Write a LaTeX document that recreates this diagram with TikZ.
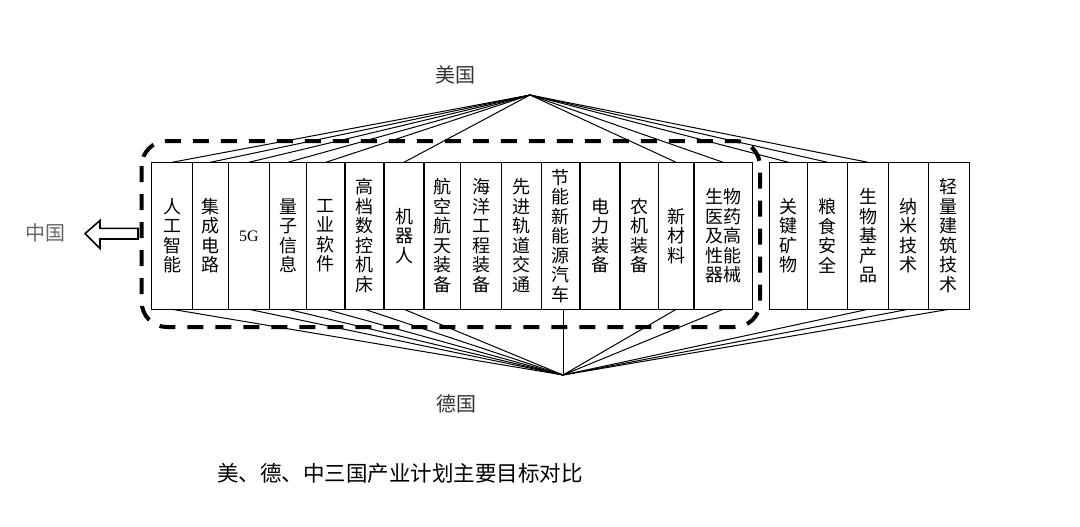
\documentclass[tikz,border=0pt]{standalone}
\usepackage{fontspec}
\setmainfont{Liberation Serif}
\newfontfamily\cjk{Noto Sans CJK SC}
\usepackage{tikz}
\usetikzlibrary{positioning}

\begin{document}
\begin{tikzpicture}[
    x=1pt, y=-1pt,
    item/.style={
        rectangle,
        draw,
        line width=1.3pt,
        fill=white,
        outer sep=0pt,
        inner sep=0pt,
        align=center,
        minimum width=39pt,
        minimum height=147pt,
        font=\cjk\fontsize{18}{19.5}\selectfont
    },
    country/.style={
        font=\cjk\fontsize{20}{22}\selectfont,
        text=black!80
    },
    frame/.style={
        line width=4pt,
        dash pattern=on 16pt off 12pt,
        rounded corners=25pt
    },
    link/.style={line width=1pt}
]
    \useasboundingbox (0,0) rectangle (1080,527);
    \fill[white] (0,0) rectangle (1080,527);

    \coordinate (us) at (530,95);
    \coordinate (de) at (563,375);

    \draw[frame] (141.7,141) rectangle (760,327);

    \node[item, minimum width=40.6pt] (ai) at (172,235.8) {人\\工\\智\\能};
    \node[item, minimum width=36pt, right=0pt of ai] (ic) {集\\成\\电\\路};
    \node[item, minimum width=41pt, right=0pt of ic] (fiveg)
        {\rmfamily\fontsize{16}{18}\selectfont 5G};
    \node[item, minimum width=37.4pt, right=0pt of fiveg] (quantum) {量\\子\\信\\息};
    \node[item, minimum width=38.3pt, right=0pt of quantum] (software) {工\\业\\软\\件};
    \node[item, right=0pt of software] (cnc) {高\\档\\数\\控\\机\\床};
    \node[item, minimum width=40pt, right=0pt of cnc] (robot) {机\\器\\人};
    \node[item, minimum width=36.7pt, right=0pt of robot] (aero) {航\\空\\航\\天\\装\\备};
    \node[item, minimum width=41pt, right=0pt of aero] (ocean) {海\\洋\\工\\程\\装\\备};
    \node[item, minimum width=40pt, right=0pt of ocean] (rail) {先\\进\\轨\\道\\交\\通};
    \node[item, minimum width=38.3pt, right=0pt of rail] (nev) {节\\能\\新\\能\\源\\汽\\车};
    \node[item, minimum width=40pt, right=0pt of nev] (power) {电\\力\\装\\备};
    \node[item, minimum width=38.3pt, right=0pt of power] (agri) {农\\机\\装\\备};
    \node[item, minimum width=35.7pt, right=0pt of agri] (material) {新\\材\\料};
    \node[item, minimum width=58.3pt, right=0pt of material] (bio)
        {生物\\医药\\及高\\性能\\器械};
    \node[item, minimum width=38.4pt, right=17pt of bio] (mineral) {关\\键\\矿\\物};
    \node[item, minimum width=40pt, right=0pt of mineral] (food) {粮\\食\\安\\全};
    \node[item, minimum width=40.6pt, right=0pt of food] (biobased) {生\\物\\基\\产\\品};
    \node[item, minimum width=40pt, right=0pt of biobased] (nano) {纳\\米\\技\\术};
    \node[item, minimum width=41pt, right=0pt of nano] (light) {轻\\量\\建\\筑\\技\\术};

    \draw[link] (us) -- (ai.north);
    \draw[link] (us) -- (ic.north);
    \draw[link] (us) -- (fiveg.north);
    \draw[link] (us) -- (quantum.north);
    \draw[link] (us) -- (software.north);
    \draw[link] (us) -- (robot.north);
    \draw[link] (us) -- (material.north);
    \draw[link] (us) -- (bio.north);
    \draw[link] (us) -- (mineral.north);
    \draw[link] (us) -- (food.north);
    \draw[link] (us) -- (biobased.north);

    \draw[link] (de) -- (ai.south);
    \draw[link] (de) -- (fiveg.south);
    \draw[link] (de) -- (quantum.south);
    \draw[link] (de) -- (software.south);
    \draw[link] (de) -- (cnc.south);
    \draw[link] (de) -- (robot.south);
    \draw[link] (de) -- (de |- nev.south);
    \draw[link] (de) -- (material.south);
    \draw[link] (de) -- (bio.south);
    \draw[link] (de) -- (biobased.south);
    \draw[link] (de) -- (nano.south);
    \draw[link] (de) -- (light.south);

    \node[country] (usa) at (455,75) {美国};
    \node[country] (ger) at (456,404) {德国};
    \node[country, text=black!60] (chn) at (45,233) {中国};

    \draw[line width=1.6pt, fill=white, line join=miter]
        (138,228.3) -- (100,228.3) -- (100,220.5) -- (85,233.6)
        -- (100,248.5) -- (100,239) -- (138,239) -- cycle;

    \node[font=\cjk\fontsize{21.5}{24}\selectfont] (caption) at (400,473)
        {美、德、中三国产业计划主要目标对比};
\end{tikzpicture}
\end{document}
